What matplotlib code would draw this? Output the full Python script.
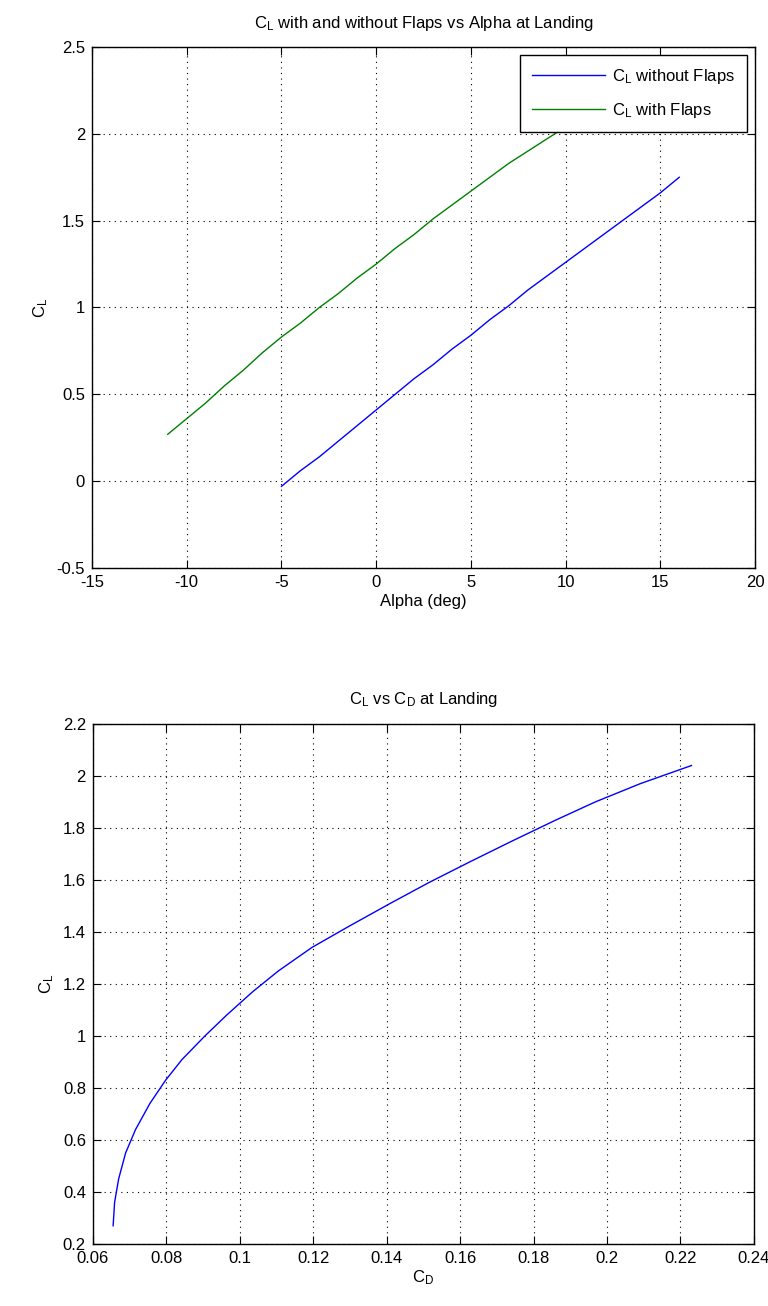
import matplotlib
matplotlib.use("Agg")
import matplotlib.pyplot as plt
from matplotlib.ticker import FuncFormatter, MultipleLocator

# Lift coefficient vs angle of attack, landing configuration
alpha_clean = [-5, -4, -3, -2, -1, 0, 1, 2, 3, 4, 5, 6, 7, 8, 9, 10, 11, 12, 13, 14, 15, 16]
cl_clean = [-0.03, 0.06, 0.14, 0.23, 0.32, 0.41, 0.50, 0.59, 0.67, 0.76, 0.84,
            0.93, 1.01, 1.10, 1.18, 1.26, 1.34, 1.42, 1.50, 1.58, 1.66, 1.75]

alpha_flaps = [-11, -10, -9, -8, -7, -6, -5, -4, -3, -2, -1, 0, 1, 2, 3, 4, 5, 6, 7, 8, 9, 10]
cl_flaps = [0.27, 0.36, 0.45, 0.55, 0.64, 0.74, 0.83, 0.91, 1.00, 1.08, 1.17,
            1.25, 1.34, 1.42, 1.51, 1.59, 1.67, 1.75, 1.83, 1.90, 1.97, 2.04]

# Drag polar (flaps deployed)
cd_polar = [0.0655, 0.0659, 0.0670, 0.0689, 0.0716, 0.0755, 0.0798, 0.0843,
            0.0905, 0.0964, 0.1035, 0.1105, 0.1196, 0.1295, 0.1410, 0.1515,
            0.1627, 0.1742, 0.1860, 0.1968, 0.2090, 0.2230]
cl_polar = cl_flaps

legend_labels = ["$C_L$ without Flaps", "$C_L$ with Flaps"]

plt.rcParams.update({
    "font.family": ["Liberation Sans", "DejaVu Sans"],
    "font.size": 12,
    "mathtext.default": "regular",
    "axes.unicode_minus": False,
    "axes.linewidth": 1.0,
    "xtick.direction": "in",
    "ytick.direction": "in",
    "xtick.top": True,
    "ytick.right": True,
    "xtick.major.size": 6,
    "ytick.major.size": 6,
    "xtick.major.pad": 5,
    "ytick.major.pad": 5,
})

fmt = FuncFormatter(lambda v, p: f"{v:g}")

fig = plt.figure(figsize=(7.68, 13.06), dpi=100)


def style(ax):
    ax.grid(True, color="black", linestyle=(0, (1, 4)), linewidth=0.8)
    ax.xaxis.set_major_formatter(fmt)
    ax.yaxis.set_major_formatter(fmt)
    for s in ax.spines.values():
        s.set_color("black")


ax1 = fig.add_axes([0.1198, 0.5651, 0.8633, 0.3989])
ax1.plot(alpha_clean, cl_clean, color=(0, 0, 1), lw=1.0, label=legend_labels[0])
ax1.plot(alpha_flaps, cl_flaps, color=(0, 0.5, 0), lw=1.0, label=legend_labels[1])
ax1.set_xlim(-15, 20)
ax1.set_ylim(-0.5, 2.5)
ax1.xaxis.set_major_locator(MultipleLocator(5))
ax1.yaxis.set_major_locator(MultipleLocator(0.5))
style(ax1)
ax1.set_title("$C_L$ with and without Flaps vs Alpha at Landing", fontsize=12, pad=14)
ax1.set_xlabel("Alpha (deg)", labelpad=3)
ax1.set_ylabel("$C_L$", labelpad=5)
leg = ax1.legend(loc="upper right", handlelength=4.4, borderaxespad=0.5,
                 fancybox=False, framealpha=1, edgecolor="black",
                 borderpad=0.7, labelspacing=0.9, handletextpad=0.4)
leg.get_frame().set_linewidth(1.0)

ax2 = fig.add_axes([0.121, 0.0475, 0.8607, 0.3982])
ax2.plot(cd_polar, cl_polar, color=(0, 0, 1), lw=1.0)
ax2.set_xlim(0.06, 0.24)
ax2.set_ylim(0.2, 2.2)
ax2.xaxis.set_major_locator(MultipleLocator(0.02))
ax2.yaxis.set_major_locator(MultipleLocator(0.2))
style(ax2)
ax2.set_title("$C_L$ vs $C_D$ at Landing", fontsize=12, pad=14)
ax2.set_xlabel("$C_D$", labelpad=2)
ax2.set_ylabel("$C_L$", labelpad=5)

fig.savefig("out.png", dpi=100)
